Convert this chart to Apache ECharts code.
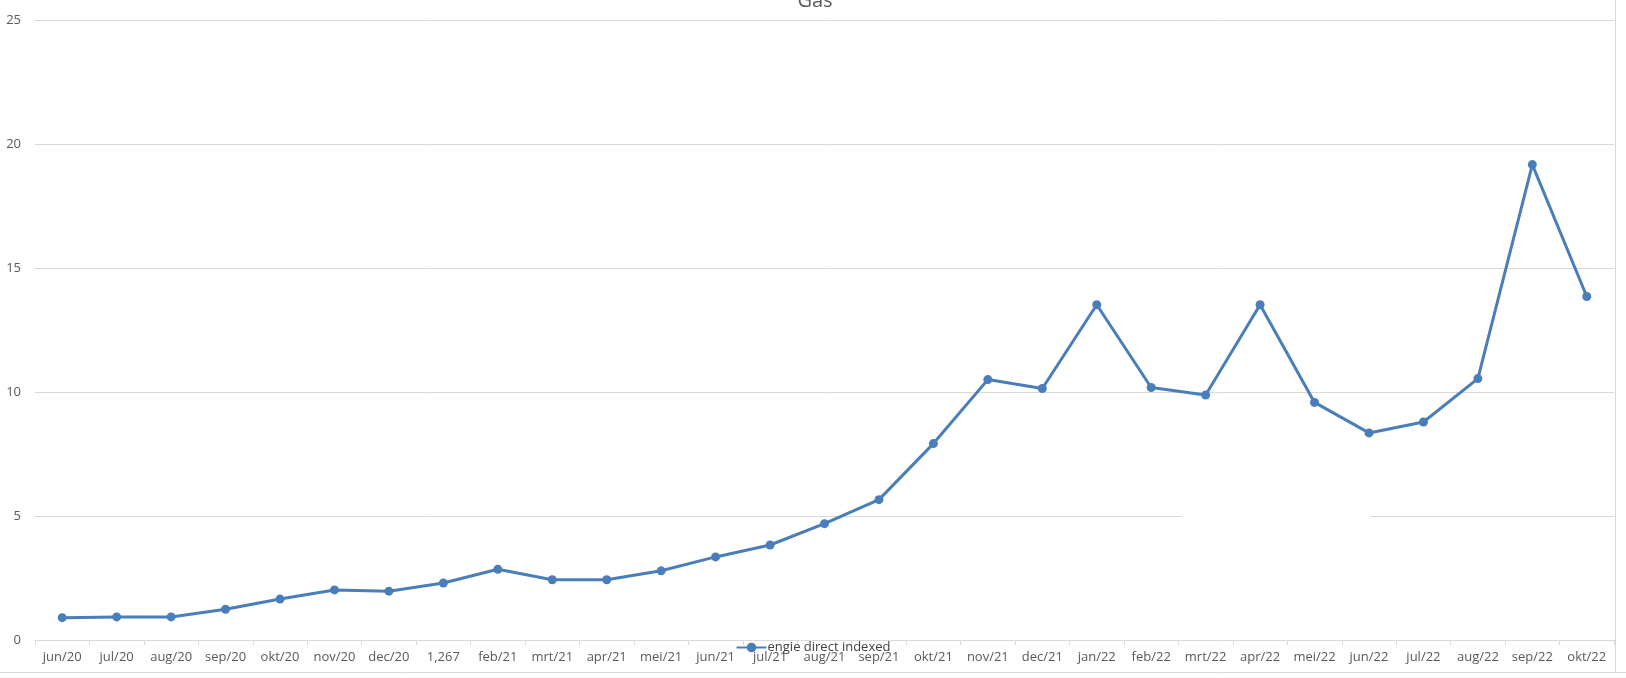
<!DOCTYPE html>
<html>
<head>
<meta charset="utf-8">
<script src="https://cdn.jsdelivr.net/npm/echarts@6/dist/echarts.min.js"></script>
<style>
html,body{margin:0;padding:0;background:#fff;}
#c{width:1626px;height:678px;}
</style>
</head>
<body>
<div id="c"></div>
<script>
const categories = ['jun/20','jul/20','aug/20','sep/20','okt/20','nov/20','dec/20','1,267','feb/21','mrt/21','apr/21','mei/21','jun/21','jul/21','aug/21','sep/21','okt/21','nov/21','dec/21','jan/22','feb/22','mrt/22','apr/22','mei/22','jun/22','jul/22','aug/22','sep/22','okt/22'];
const engieDirectIndexed = [0.90,0.93,0.93,1.24,1.65,2.02,1.97,2.30,2.85,2.43,2.43,2.79,3.35,3.83,4.69,5.66,7.92,10.50,10.14,13.52,10.18,9.88,13.52,9.58,8.35,8.79,10.54,19.17,13.85];
const yTicks = {min:0, max:25, interval:5};
const seriesName = 'engie direct indexed';
const titleText = 'Gas';

const FONT = '"Open Sans", sans-serif';
const chart = echarts.init(document.getElementById('c'));
chart.setOption({
  animation: false,
  backgroundColor: '#ffffff',
  title: {
    text: titleText, left: 810, top: -15,
    textAlign: 'center',
    textStyle: {fontFamily: FONT, fontSize: 20, fontWeight: 'normal', color: '#595959', lineHeight: 22}
  },
  legend: {
    data: [seriesName], left: 'center', top: 641, itemWidth: 30, itemHeight: 12, itemGap: 0,
    padding: 0,
    textStyle: {fontFamily: FONT, fontSize: 13, color: '#404040', padding: [0,0,0,-4]}
  },
  grid: {left: 35, right: 12, top: 20, bottom: 38, containLabel: false},
  xAxis: {
    type: 'category', data: categories, boundaryGap: true,
    axisLine: {lineStyle: {color: '#d9d9d9', width: 1}},
    axisTick: {show: true, length: 5, lineStyle: {color: '#d9d9d9'}},
    axisLabel: {fontFamily: FONT, fontSize: 13, color: '#595959', margin: 11, interval: 0}
  },
  yAxis: {
    type: 'value', min: yTicks.min, max: yTicks.max, interval: yTicks.interval,
    axisLine: {show: false}, axisTick: {show: false},
    splitLine: {lineStyle: {color: '#d9d9d9', width: 1}},
    axisLabel: {fontFamily: FONT, fontSize: 13, color: '#595959', margin: 14}
  },
  series: [{
    name: seriesName, type: 'line', data: engieDirectIndexed,
    symbol: 'circle', symbolSize: 9,
    lineStyle: {color: '#4a7ebb', width: 3},
    itemStyle: {color: '#4a7ebb'},
    z: 5
  }],
  graphic: [
    {type: 'rect', z: 50, shape: {x: 1182, y: 513, width: 189, height: 6}, style: {fill: '#ffffff'}},
    {type: 'line', z: 50, shape: {x1: 0, y1: 672.5, x2: 1626, y2: 672.5}, style: {stroke: '#d9d9d9', lineWidth: 1}},
    {type: 'line', z: 50, shape: {x1: 1615.5, y1: 0, x2: 1615.5, y2: 672}, style: {stroke: '#d9d9d9', lineWidth: 1}}
  ]
});
</script>
</body>
</html>
